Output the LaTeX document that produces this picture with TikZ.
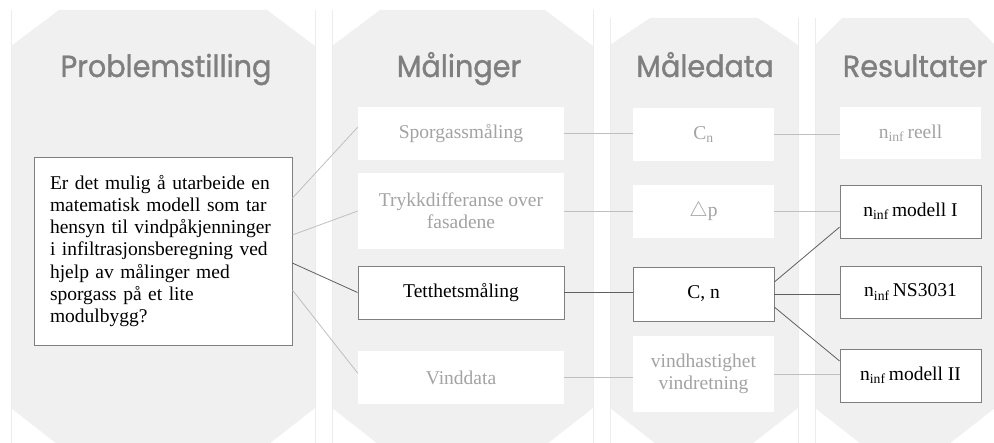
\documentclass[tikz,border=0pt]{standalone}
\usepackage{fontspec}
\setmainfont{Liberation Serif}
\newfontfamily\headfont{Poppins}[FakeBold=1.2]
\usetikzlibrary{calc}
\definecolor{colbg}{HTML}{F0F0F0}
\definecolor{colline}{HTML}{ECECEC}
\definecolor{headgray}{HTML}{7F7F7F}
\definecolor{lightline}{HTML}{BFBFBF}
\definecolor{darkline}{HTML}{5F5F5F}
\definecolor{boxborder}{HTML}{7F7F7F}
\definecolor{greytext}{HTML}{A3A3A3}
\newcommand{\headtext}[1]{\scalebox{0.94}[1]{#1}}
\begin{document}
\begin{tikzpicture}[x=1pt,y=-1pt,
  colshape/.style={fill=colbg,draw=none},
  edgeline/.style={draw=colline,line width=0.6pt},
  header/.style={font=\headfont\fontsize{30.5}{33}\selectfont, text=headgray, anchor=base, inner sep=0pt},
  basebox/.style={fill=white, inner sep=2pt, align=center, font=\fontsize{19.5}{22.2}\selectfont},
  greybox/.style={basebox, draw=none, text=greytext},
  blackbox/.style={basebox, draw=boxborder, line width=0.9pt, text=black},
  lightconn/.style={draw=lightline, line width=0.8pt},
  darkconn/.style={draw=darkline, line width=0.8pt}
]
\useasboundingbox (0,0) rectangle (994,443);
\clip (0,0) rectangle (994,443);
% columns
\fill[colshape] (11,46) -- (59,10) -- (267,10) -- (315,46) -- (315,408) -- (269,444) -- (57,444) -- (11,408) -- cycle;
\fill[colshape] (332,46) -- (380,10) -- (545,10) -- (593,46) -- (593,408) -- (547,444) -- (378,444) -- (332,408) -- cycle;
\fill[colshape] (610,45) -- (650,18) -- (758,18) -- (798,45) -- (798,408) -- (752,444) -- (656,444) -- (610,408) -- cycle;
\fill[colshape] (815,45) -- (842,18) -- (968,18) -- (995,45) -- (995,408) -- (949,444) -- (861,444) -- (815,408) -- cycle;
% faint bounding edges
\draw[edgeline] (11,10) -- (11,443);
\draw[edgeline] (315,10) -- (315,443);
\draw[edgeline] (332,10) -- (332,443);
\draw[edgeline] (593,10) -- (593,443);
\draw[edgeline] (610,18) -- (610,443);
\draw[edgeline] (798,18) -- (798,443);
\draw[edgeline] (815,18) -- (815,443);
% headers
\node[header] (h1) at (166,77) {\headtext{Problemstilling}};
\node[header] (h2) at (459,77) {\headtext{Målinger}};
\node[header] (h3) at (705,77) {\headtext{Måledata}};
\node[header] (h4) at (915,77) {\headtext{Resultater}};
% problem box
\node[blackbox, align=left, text width=226pt, minimum height=188pt, inner xsep=16pt] (prob) at (163,251)
  {Er det mulig å utarbeide en\\ matematisk modell som tar\\ hensyn til vindpåkjenninger\\ i infiltrasjonsberegning ved\\ hjelp av målinger med\\ spor\-gass på et lite\\ modulbygg?};
% Malinger
\node[greybox, minimum width=206pt, minimum height=53pt] (spor) at (461,133.5) {Sporgassmåling};
\node[greybox, minimum width=206pt, minimum height=76pt] (trykk) at (461,211) {Trykkdifferanse over\\ fasadene};
\node[blackbox, minimum width=206pt, minimum height=53pt] (tett) at (461,292.5) {Tetthetsmåling};
\node[greybox, minimum width=206pt, minimum height=53pt] (vind) at (461,377.5) {Vinddata};
% Maledata
\node[greybox, minimum width=141pt, minimum height=53pt] (cn) at (703.5,134.5) {C\textsubscript{n}};
\node[greybox, minimum width=141pt, minimum height=53pt] (dp) at (703.5,211.5) {$\triangle$p};
\node[blackbox, minimum width=141pt, minimum height=54pt] (cnn) at (703.5,294) {C, n};
\node[greybox, minimum width=141pt, minimum height=76pt] (vh) at (703.5,374) {vindhastighet\\ vindretning};
% Resultater
\node[greybox, minimum width=141pt, minimum height=52pt] (reell) at (910.5,133) {n\textsubscript{inf}\,reell};
\node[blackbox, minimum width=141pt, minimum height=53pt] (m1) at (910.5,211.5) {n\textsubscript{inf}\,modell I};
\node[blackbox, minimum width=141pt, minimum height=52pt] (ns) at (910.5,292) {n\textsubscript{inf}\,NS3031};
\node[blackbox, minimum width=141pt, minimum height=53pt] (m2) at (910.5,375.5) {n\textsubscript{inf}\,modell II};
% connectors
\draw[lightconn] ($(prob.north east)!0.22!(prob.south east)$) -- ($(spor.north west)!0.38!(spor.south west)$);
\draw[lightconn] ($(prob.north east)!0.415!(prob.south east)$) -- (trykk.west);
\draw[darkconn] ($(prob.north east)!0.564!(prob.south east)$) -- (tett.west);
\draw[lightconn] ($(prob.north east)!0.707!(prob.south east)$) -- ($(vind.north west)!0.42!(vind.south west)$);
\draw[lightconn] (spor.east) -- (spor.east -| cn.west);
\draw[lightconn] (trykk.east) -- (trykk.east -| dp.west);
\draw[darkconn] (tett.east) -- (tett.east -| cnn.west);
\draw[lightconn] (vind.east) -- (vind.east -| vh.west);
\draw[lightconn] (cn.east) -- (cn.east -| reell.west);
\draw[lightconn] (dp.east) -- (dp.east -| m1.west);
\draw[darkconn] ($(cnn.north east)!0.28!(cnn.south east)$) -- ($(m1.north west)!0.79!(m1.south west)$);
\draw[darkconn] (cnn.east) -- (cnn.east -| ns.west);
\draw[darkconn] ($(cnn.north east)!0.74!(cnn.south east)$) -- ($(m2.north west)!0.23!(m2.south west)$);
\draw[lightconn] (vh.east) -- (vh.east -| m2.west);
\end{tikzpicture}
\end{document}
